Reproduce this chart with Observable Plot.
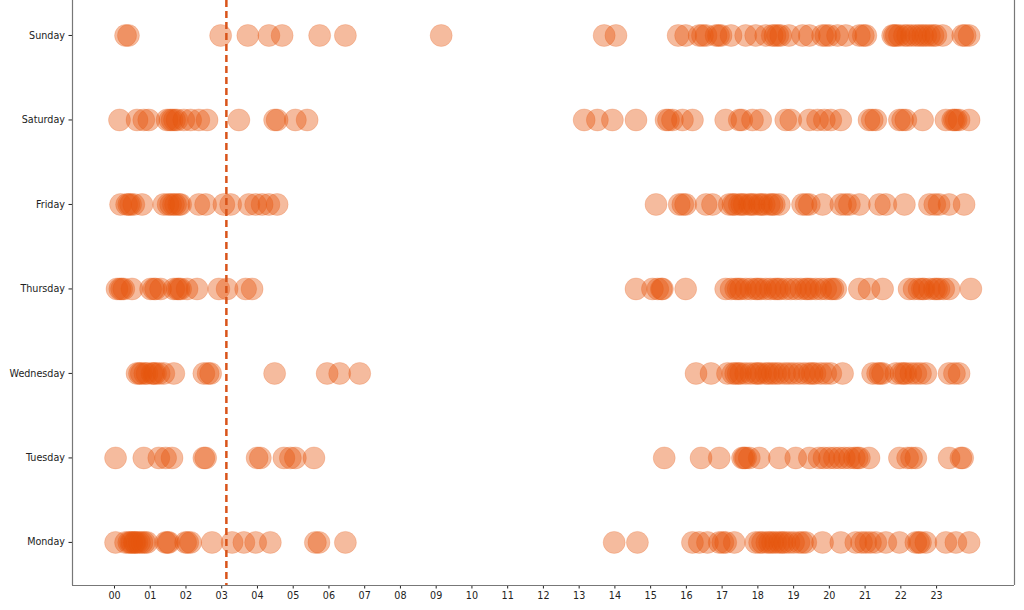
<!DOCTYPE html>
<html>
<head>
<meta charset="utf-8">
<script src="https://cdn.jsdelivr.net/npm/d3@7"></script>
<script src="https://cdn.jsdelivr.net/npm/@observablehq/plot@0.6"></script>
<style>
  html, body { margin: 0; padding: 0; background: white; }
  #chart { width: 1024px; height: 610px; overflow: hidden; }
</style>
</head>
<body>
<div id="chart"></div>
<script>
// Weekday categories (bottom to top)
const days = ["Monday", "Tuesday", "Wednesday", "Thursday", "Friday", "Saturday", "Sunday"];
// Hour tick labels
const hourTicks = d3.range(0, 24);
const hourLabels = hourTicks.map(h => String(h).padStart(2, "0"));
// Reference line (hour of day)
const refHour = 3.13;

// Times of day (hours) for each weekday
const monday = [0.03, 0.31, 0.4, 0.45, 0.49, 0.55, 0.58, 0.63, 0.7, 0.77, 0.84, 0.91, 1.43, 1.48, 1.52, 1.99, 2.05, 2.13, 2.73, 3.29, 3.62, 3.95, 4.36, 5.62, 5.72, 6.46,
  13.98, 14.63, 16.17, 16.36, 16.59, 16.92, 17.02, 17.10, 17.34, 17.94, 18.05, 18.13, 18.25, 18.33, 18.41, 18.5, 18.6, 18.68, 18.75, 18.87, 19.0, 19.15, 19.25, 19.34, 19.81, 20.32, 20.74, 20.9, 21.02, 21.15, 21.3, 21.58, 21.96, 22.42, 22.5, 22.55, 22.7, 23.26, 23.54, 23.91];
const tuesday = [0.03, 0.82, 1.24, 1.43, 1.61, 2.5, 2.55, 3.99, 4.08, 4.74, 4.92, 5.06, 5.58,
  15.38, 16.41, 16.92, 17.57, 17.62, 17.66, 17.76, 18.04, 18.6, 19.06, 19.44, 19.71, 19.85, 20.0, 20.14, 20.28, 20.42, 20.56, 20.7, 20.78, 20.84, 21.11, 21.96, 22.19, 22.3, 22.42, 23.35, 23.68, 23.73];
const wednesday = [0.63, 0.7, 0.75, 0.85, 0.91, 1.05, 1.1, 1.15, 1.25, 1.38, 1.66, 2.5, 2.62, 2.69, 4.48, 5.95, 6.3, 6.86,
  16.27, 16.69, 17.15, 17.3, 17.38, 17.45, 17.52, 17.66, 17.8, 17.94, 18.0, 18.08, 18.22, 18.3, 18.4, 18.5, 18.6, 18.75, 18.87, 19.0, 19.15, 19.3, 19.44, 19.52, 19.6, 19.76, 19.9, 20.04, 20.37, 21.21, 21.35, 21.42, 21.49, 21.86, 22.0, 22.08, 22.14, 22.28, 22.42, 22.55, 22.7, 23.35, 23.5, 23.63];
const thursday = [0.07, 0.15, 0.2, 0.26, 0.49, 1.01, 1.1, 1.15, 1.29, 1.66, 1.75, 1.8, 1.85, 2.03, 2.31, 2.92, 3.15, 3.67, 3.85,
  14.59, 15.05, 15.2, 15.3, 15.33, 15.98, 17.1, 17.25, 17.38, 17.45, 17.52, 17.66, 17.8, 17.94, 18.0, 18.08, 18.22, 18.35, 18.48, 18.55, 18.62, 18.78, 18.92, 19.06, 19.2, 19.34, 19.4, 19.48, 19.62, 19.76, 19.9, 20.04, 20.1, 20.18, 20.84, 21.11, 21.49, 22.23, 22.37, 22.51, 22.6, 22.65, 22.8, 22.94, 23.0, 23.07, 23.2, 23.35, 23.96];
const friday = [0.17, 0.34, 0.4, 0.45, 0.54, 0.77, 1.38, 1.5, 1.57, 1.65, 1.71, 1.8, 1.85, 2.36, 2.55, 3.06, 3.25, 3.76, 3.95, 4.13, 4.32, 4.55,
  15.15, 15.8, 15.9, 15.98, 16.55, 16.73, 17.2, 17.3, 17.35, 17.48, 17.55, 17.62, 17.76, 17.82, 17.9, 18.04, 18.1, 18.18, 18.32, 18.4, 18.46, 18.6, 19.25, 19.35, 19.44, 19.81, 20.32, 20.45, 20.56, 20.84, 21.4, 21.58, 22.1, 22.8, 22.95, 23.07, 23.35, 23.77];
const saturday = [0.14, 0.63, 0.82, 0.96, 1.47, 1.55, 1.61, 1.68, 1.75, 1.94, 2.13, 2.36, 2.59, 3.48, 4.48, 4.55, 5.06, 5.39,
  13.14, 13.51, 13.93, 14.59, 15.43, 15.5, 15.61, 15.89, 16.17, 17.1, 17.48, 17.55, 17.85, 18.08, 18.78, 18.92, 19.44, 19.67, 19.86, 20.04, 20.32, 21.11, 21.2, 21.3, 21.96, 22.05, 22.14, 22.61, 23.26, 23.45, 23.5, 23.55, 23.63, 23.91];
const sunday = [0.31, 0.39, 2.97, 3.73, 4.32, 4.69, 5.74, 6.46, 9.14,
  13.7, 14.03, 15.77, 15.98, 16.36, 16.45, 16.55, 16.83, 16.9, 16.97, 17.25, 17.66, 17.94, 18.22, 18.4, 18.48, 18.56, 18.64, 18.87, 19.25, 19.44, 19.81, 19.9, 20.0, 20.23, 20.46, 20.84, 20.95, 21.02, 21.77, 21.82, 21.87, 21.96, 22.1, 22.19, 22.3, 22.42, 22.52, 22.61, 22.7, 22.8, 22.9, 22.98, 23.17, 23.73, 23.8, 23.91];

const series = [monday, tuesday, wednesday, thursday, friday, saturday, sunday];
const data = series.flatMap((hours, i) => hours.map(h => ({day: i, hour: h})));

const xDomain = [-1.175, 25.18];
const yDomain = [-0.51, 6.414];

const chart = Plot.plot({
  width: 1024,
  height: 610,
  marginLeft: 72,
  marginRight: 10,
  marginTop: 0,
  marginBottom: 25,
  style: {fontFamily: "DejaVu Sans", fontSize: "9.6px", color: "#222", background: "white"},
  x: {domain: xDomain, ticks: hourTicks, tickFormat: h => hourLabels[h], label: null, tickSize: 3.5, tickPadding: 3},
  y: {domain: yDomain, ticks: d3.range(days.length), tickFormat: i => days[i], label: null, tickSize: 3.5, tickPadding: 4},
  marks: [
    Plot.ruleX(xDomain, {stroke: "#777", strokeWidth: 1.2}),
    Plot.ruleY([yDomain[0]], {stroke: "#777", strokeWidth: 1.2}),
    Plot.dot(data, {x: "hour", y: "day", r: 11, fill: "#e6550d", fillOpacity: 0.4, stroke: "#e6550d", strokeOpacity: 0.2, strokeWidth: 1}),
    Plot.ruleX([refHour], {stroke: "#d9541a", strokeWidth: 2.5, strokeDasharray: "7,4"})
  ]
});
document.getElementById("chart").appendChild(chart);
</script>
</body>
</html>
